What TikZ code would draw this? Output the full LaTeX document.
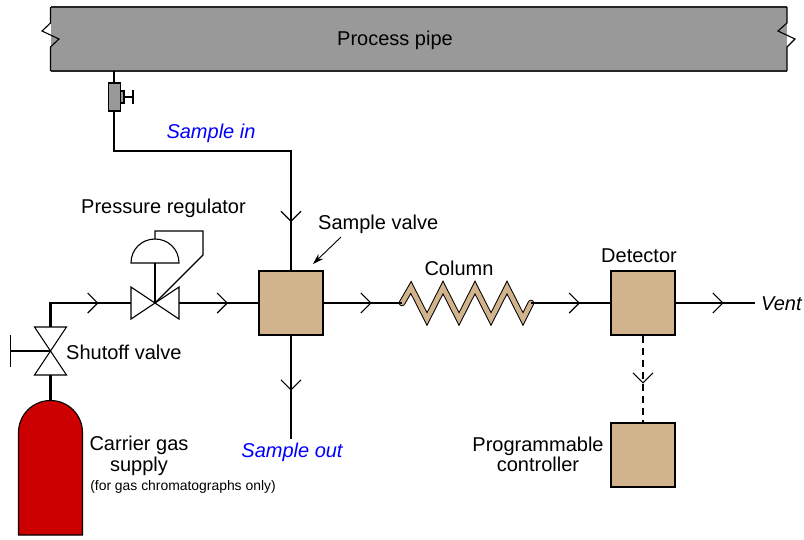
\documentclass[tikz,border=0pt]{standalone}
\usepackage{fontspec}
\setmainfont{Liberation Sans}
\usetikzlibrary{arrows.meta,decorations.markings}

\definecolor{pipegray}{HTML}{999999}
\definecolor{boxtan}{HTML}{D2B48C}
\definecolor{tankred}{HTML}{CC0000}

\tikzset{
    label/.style={inner sep=0pt, font=\fontsize{20}{20.5}\selectfont, align=center},
    bluelabel/.style={label, text=blue, font=\fontsize{20}{20.5}\selectfont\itshape},
    anabox/.style={draw, line width=1.2pt, fill=boxtan, minimum size=64pt, inner sep=0pt},
    tube/.style={line width=2.6pt},
    thinline/.style={line width=1.1pt},
    flow/.style={postaction={decorate, decoration={markings,
        mark=at position #1 with {\arrow{Straight Barb[length=10pt,width=20pt,line width=1.1pt]}}}}}
}

\begin{document}
\begin{tikzpicture}[x=1pt, y=-1pt, line join=miter]
    \useasboundingbox (0,0) rectangle (804,539);

    % Process pipe
    \fill[pipegray] (50.5,7) rectangle (787,71);
    \draw[line width=1.6pt, black!85] (50.5,7) -- (787,7);
    \draw[line width=1.6pt, black!85] (50.5,71) -- (787,71);
    \draw[thinline] (50.5,7) -- (50.5,23) -- (42,31) -- (59,39) -- (50.5,47) -- (50.5,71);
    \draw[thinline] (787,7) -- (787,23) -- (778,31) -- (795,39) -- (787,47) -- (787,71);
    \node[label] (pipe) at (395,40.5) {Process pipe};

    % Analyzer boxes
    \node[anabox] (svalve) at (291,303) {};
    \node[anabox] (detector) at (643,303) {};
    \node[anabox] (controller) at (643,455) {};

    % Sample tap
    \coordinate (tapA) at (114,71);
    \coordinate (tapB) at (114,151);
    \coordinate (tapC) at (291,151);
    \draw[tube] (tapA) -- (tapB) -- (tapC) -- (svalve.north);
    \draw[draw=none, flow=71pt] (tapC) -- (svalve.north);
    \draw[thinline, fill=pipegray] (108.5,83) rectangle (120.5,111);
    \draw[thinline, fill=pipegray] (120.5,91) rectangle (124,103);
    \draw[line width=1.5pt] (124,97) -- (133,97);
    \draw[line width=1.5pt] (133,90) -- (133,104);

    % Carrier gas cylinder
    \coordinate (tanktop) at (50.5,400.5);
    \draw[thinline, fill=tankred] (18.5,535) -- (18.5,432.5) .. controls (18.5,414.8) and (32.8,400.5) .. (tanktop)
        .. controls (68.2,400.5) and (82.5,414.8) .. (82.5,432.5) -- (82.5,535) -- cycle;

    % Shutoff valve
    \coordinate (shut) at (50.5,351);
    \coordinate (shutT) at (50.5,327);
    \coordinate (shutB) at (50.5,375);
    \coordinate (corner) at (50.5,303);
    \draw[thinline] (shut) -- (34.5,327) -- (66.5,327) -- cycle;
    \draw[thinline] (shut) -- (34.5,375) -- (66.5,375) -- cycle;
    \draw[thinline] (shut) -- (10.5,351);
    \draw[thinline] (10.5,335) -- (10.5,367);
    \draw[tube] (shutB) -- (tanktop);

    % Pressure regulator
    \coordinate (reg) at (155,303);
    \coordinate (regL) at (131,303);
    \coordinate (regR) at (179,303);
    \draw[thinline] (reg) -- (131,287) -- (131,319) -- cycle;
    \draw[thinline] (reg) -- (179,287) -- (179,319) -- cycle;
    \draw[thinline] (reg) -- (155,263);
    \draw[thinline] (131,263) .. controls (131,249) and (142,239) .. (155,239)
        .. controls (168,239) and (179,249) .. (179,263) -- cycle;
    \draw[thinline] (155,239) -- (155,231) -- (203,231) -- (203,255) -- (reg);

    % Column
    \coordinate (colL) at (402,303);
    \coordinate (colR) at (531,303);
    \draw[line width=6.6pt, line cap=round] (colL) -- (411,287.5) -- (427,319) -- (443,287.5) -- (459,319)
        -- (475,287.5) -- (491,319) -- (507,287.5) -- (523,319) -- (colR);
    \draw[line width=4.6pt, boxtan, line cap=round] (colL) -- (411,287.5) -- (427,319) -- (443,287.5) -- (459,319)
        -- (475,287.5) -- (491,319) -- (507,287.5) -- (523,319) -- (colR);

    % Flow lines
    \coordinate (sout) at (291,439);
    \coordinate (vent) at (755,303);
    \draw[tube] (shutT) -- (corner) -- (regL);
    \draw[draw=none, flow=48pt] (corner) -- (regL);
    \draw[tube, flow=49pt] (regR) -- (svalve.west);
    \draw[tube, flow=55pt] (svalve.south) -- (sout);
    \draw[tube, flow=48pt] (svalve.east) -- (colL);
    \draw[tube, flow=49pt] (colR) -- (detector.west);
    \draw[tube, flow=48pt] (detector.east) -- (vent);
    \draw[thinline, dash pattern=on 7pt off 5pt, flow=48pt] (detector.south) -- (controller.north);

    % Labels
    \node[bluelabel] (samplein) at (211,133) {Sample in};
    \node[bluelabel] (sampleout) at (292,452) {Sample out};
    \node[label] (reglabel) at (163.5,208) {Pressure regulator};
    \node[label, anchor=west] (shutlabel) at (66,352) {Shutoff valve};
    \node[label, anchor=west] (svlabel) at (318,224) {Sample valve};
    \node[label] (collabel) at (459,268) {Column};
    \node[label] (detlabel) at (639,256) {Detector};
    \node[label] (ctllabel) at (538,454.5) {Programmable\\controller};
    \node[label] (gaslabel) at (139,456) {Carrier gas\\supply};
    \node[inner sep=0pt, font=\fontsize{13.9}{16}\selectfont] (gasnote) at (183,487) {(for gas chromatographs only)};
    \node[label, font=\fontsize{20}{20.5}\selectfont\itshape, anchor=west] (ventlabel) at (761,304) {Vent};

    % Pointer to sample valve
    \coordinate (ptr) at (313,264);
    \draw[line width=0.9pt, -{Stealth[length=11pt,width=7pt]}] (341,237) -- (ptr);
\end{tikzpicture}
\end{document}
